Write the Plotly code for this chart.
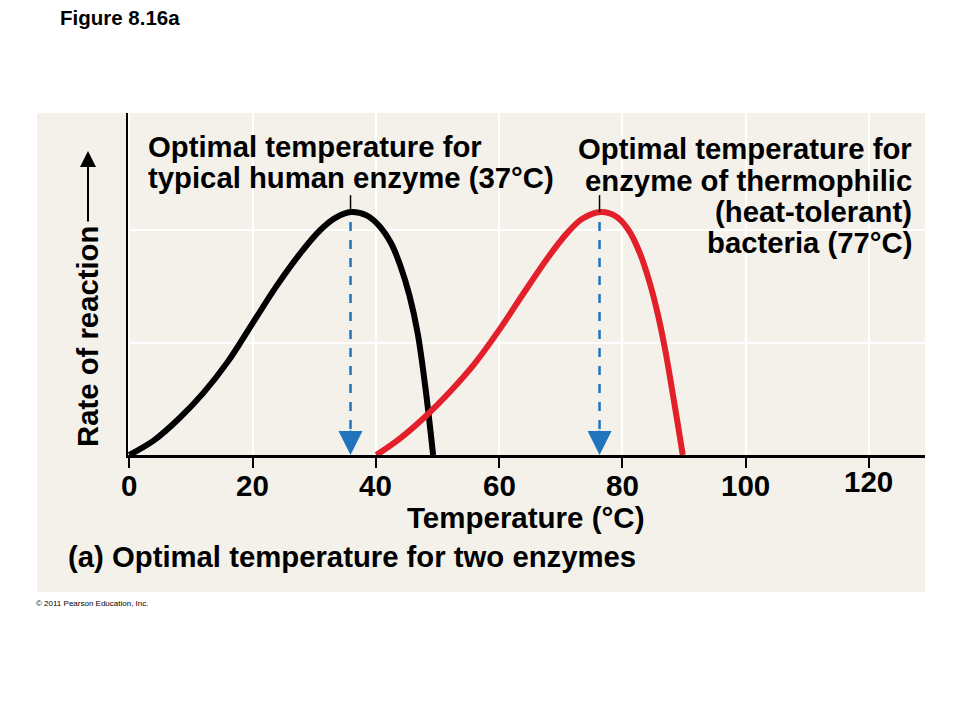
import plotly.graph_objects as go

# ---------------- data ----------------
human_temp = [0, 4, 8, 12, 16, 20, 24, 28, 31, 33.5, 36, 38.5, 40.5, 42.5, 44,
              45.5, 46.8, 48, 49.3]
human_rate = [0, 0.13, 0.32, 0.55, 0.83, 1.17, 1.51, 1.81, 2.00, 2.11, 2.16, 2.13,
              2.04, 1.88, 1.68, 1.41, 1.08, 0.62, 0]

thermo_temp = [40.1, 44, 48, 52, 56, 60, 64, 68, 71, 73.5, 76.5, 79, 81, 82.8, 84.5,
               85.8, 87, 88.1, 89.1, 89.8]
thermo_rate = [0, 0.15, 0.34, 0.56, 0.81, 1.11, 1.44, 1.76, 1.97, 2.10, 2.16, 2.12,
               2.00, 1.80, 1.52, 1.24, 0.92, 0.57, 0.24, 0]

optima = [35.9, 76.3]          # where the dashed arrows are drawn
optima_rate = [2.16, 2.16]
x_ticks = [0, 20, 40, 60, 80, 100, 120]
x_tick_labels = ["0", "20", "40", "60", "80", "100", "120"]
y_grid = [1, 2]

W, H = 960, 720
FONT = "Liberation Sans, Arial, Helvetica, sans-serif"
BLUE = "#1f74bc"


def px(x):
    return x / W


def py(y):
    return 1 - y / H


fig = go.Figure()

# curves
fig.add_trace(go.Scatter(x=human_temp, y=human_rate, mode="lines",
                         line=dict(color="black", width=6, shape="spline", smoothing=1.0),
                         hoverinfo="skip"))
fig.add_trace(go.Scatter(x=thermo_temp, y=thermo_rate, mode="lines",
                         line=dict(color="#e3202a", width=6, shape="spline", smoothing=1.0),
                         hoverinfo="skip"))

# dashed blue arrows and small black ticks above peaks
for xo, yo in zip(optima, optima_rate):
    fig.add_trace(go.Scatter(x=[xo, xo], y=[yo - 0.09, 0.15], mode="lines",
                             line=dict(color=BLUE, width=2.5, dash="9px,9px"),
                             hoverinfo="skip"))
    fig.add_trace(go.Scatter(x=[xo, xo], y=[yo, 2.31], mode="lines",
                             line=dict(color="black", width=1.5),
                             hoverinfo="skip"))
    fig.add_annotation(x=xo, y=0, xref="x", yref="y", ax=0, ay=-26,
                       axref="pixel", ayref="pixel", text="", showarrow=True,
                       arrowhead=2, arrowsize=2.4, arrowwidth=2, arrowcolor=BLUE,
                       standoff=0)

# outer light panel
fig.add_shape(type="rect", xref="paper", yref="paper",
              x0=px(37), x1=px(925), y0=py(592), y1=py(113),
              fillcolor="#f3f1ea", line=dict(width=0), layer="below")


def text(t, x, y, xanchor="left", size=29.3, weight="bold", yanchor="middle",
         xref="paper"):
    fig.add_annotation(x=px(x) if xref == "paper" else x, y=py(y), xref=xref,
                       yref="paper", text=t, showarrow=False,
                       xanchor=xanchor, yanchor=yanchor,
                       font=dict(family=FONT, size=size, color="black", weight=weight))


# tick labels placed on the x axis scale
for v, lab in zip(x_ticks, x_tick_labels):
    text(lab, v, 482 if v == 120 else 485, xanchor="center", size=29.5, xref="x")

# left label
text("Optimal temperature for", 146, 147)
text("typical human enzyme (37°C)", 146, 177)
# right label
text("Optimal temperature for", 914, 149, xanchor="right")
text("enzyme of thermophilic", 914, 180, xanchor="right")
text("(heat-tolerant)", 914, 211, xanchor="right")
text("bacteria (77°C)", 914, 242, xanchor="right")

# axis title & caption
text("Temperature (°C)", 525, 517, xanchor="center", size=29.5)
text("(a) Optimal temperature for two enzymes", 66, 556)
text("Figure 8.16a", 120, 17, xanchor="center", size=20.5)
text("© 2011 Pearson Education, Inc.", 34, 603, size=8, weight="normal")

# rotated y title with arrow
fig.add_annotation(x=px(87), y=py(337), xref="paper", yref="paper",
                   text="Rate of reaction", textangle=-90, showarrow=False,
                   xanchor="center", yanchor="middle",
                   font=dict(family=FONT, size=29.3, color="black", weight="bold"))
fig.add_annotation(x=px(88), y=py(151), xref="paper", yref="paper",
                   ax=0, ay=72, axref="pixel", ayref="pixel", text="",
                   showarrow=True, arrowhead=2, arrowsize=1.6, arrowwidth=2,
                   arrowcolor="black", standoff=0)

fig.update_layout(
    width=W, height=H,
    margin=dict(l=0, r=0, t=0, b=0),
    paper_bgcolor="white",
    plot_bgcolor="#e8e4d6",
    showlegend=False,
    xaxis=dict(domain=[px(128), px(925)], range=[-0.2, 129.1], tickvals=x_ticks,
               showticklabels=False,
               showgrid=True, gridcolor="white", gridwidth=2,
               showline=True, linecolor="black", linewidth=3,
               ticks="outside", ticklen=10, tickwidth=2, tickcolor="black",
               zeroline=False, fixedrange=True),
    yaxis=dict(domain=[py(455), py(113)], range=[0, 3.04], tickvals=y_grid,
               showgrid=True, gridcolor="white", gridwidth=2,
               showline=True, linecolor="black", linewidth=2,
               showticklabels=False, ticks="", zeroline=False, fixedrange=True),
)

fig.write_html("out.html",
               config={"displayModeBar": False},
               post_script="document.body.style.margin='0';"
                           "document.body.style.overflow='hidden';")
